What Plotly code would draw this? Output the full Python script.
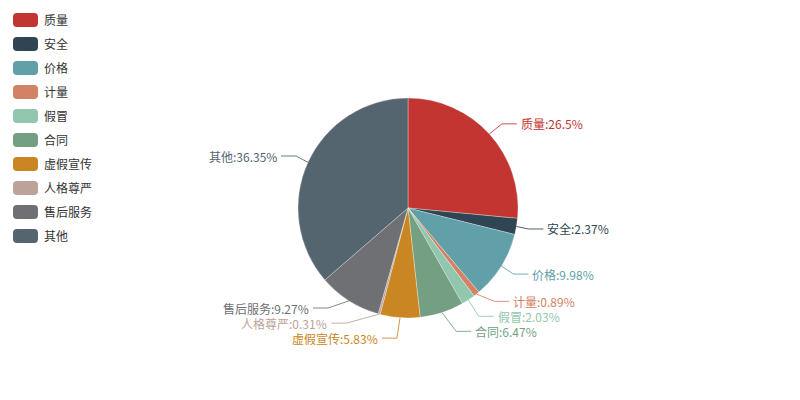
import math
import plotly.graph_objects as go

# ---- data ----
names = ["质量", "安全", "价格", "计量", "假冒", "合同", "虚假宣传", "人格尊严", "售后服务", "其他"]
values = [26.5, 2.37, 9.98, 0.89, 2.03, 6.47, 5.83, 0.31, 9.27, 36.35]
colors = ["#c23531", "#2f4554", "#61a0a8", "#d48265", "#91c7ae",
          "#749f83", "#ca8622", "#bda29a", "#6e7074", "#546570"]

# ---- layout constants (pixels) ----
W, H = 800, 400
CX, CY, R = 408, 208, 110
LEN1, LEN2 = 15, 15
LABEL_H = 15
FONT = "Noto Sans CJK SC"


def px(x):
    return x / W


def py(y):
    return 1 - y / H


# ---- compute label layout (ECharts-like) ----
total = sum(values)
labels = []
cum = 0.0
for i, (n, v) in enumerate(zip(names, values)):
    mid = (cum + v / 2) / total * 2 * math.pi
    cum += v
    s, c = math.sin(mid), -math.cos(mid)
    x0, y0 = CX + R * s, CY + R * c
    x1, y1 = CX + (R + LEN1) * s, CY + (R + LEN1) * c
    d = 1 if s >= 0 else -1
    x2 = x1 + d * LEN2
    tx = x2 + d * 5
    labels.append(dict(i=i, x=tx, y=y1, d=d, pts=[[x0, y0], [x1, y1], [x2, y1]]))


def change_x(lst, is_down, d):
    last = 1e18 if is_down else 0
    for L in lst:
        dy = abs(L["y"] - CY)
        if dy < R + LEN1:
            dx = math.sqrt((R + LEN1 + LEN2) ** 2 - dy ** 2)
        else:
            dx = abs(L["x"] - CX)
        if is_down and dx >= last:
            dx = last - 10
        if (not is_down) and dx <= last:
            dx = last + 10
        L["x"] = CX + dx * d
        last = dx


def adjust(lst, d):
    lst.sort(key=lambda L: L["y"])
    n = len(lst)

    def shift_up(end, delta):
        for j in range(end, -1, -1):
            lst[j]["y"] -= delta
            if j > 0 and lst[j]["y"] > lst[j - 1]["y"] + LABEL_H:
                break

    def shift_down(start, end, delta):
        for j in range(start, end):
            lst[j]["y"] += delta
            if j > start and j + 1 < end and lst[j + 1]["y"] > lst[j]["y"] + LABEL_H:
                shift_up(j, delta / 2)
                return
        shift_up(end - 1, delta / 2)

    last_y = 0
    for i in range(n):
        delta = lst[i]["y"] - last_y
        if delta < 0:
            shift_down(i, n, -delta)
        last_y = lst[i]["y"] + LABEL_H
    if H - last_y < 0:
        shift_up(n - 1, last_y - H)
    up = [L for L in lst if L["y"] < CY]
    down = [L for L in lst if L["y"] >= CY]
    change_x(up, False, d)
    change_x(down, True, d)


adjust([L for L in labels if L["d"] > 0], 1)
adjust([L for L in labels if L["d"] < 0], -1)

for L in labels:
    pts = L["pts"]
    dist = pts[1][0] - pts[2][0]
    pts[2][0] = L["x"] + 3 if L["x"] < CX else L["x"] - 3
    pts[1][1] = pts[2][1] = L["y"]
    pts[1][0] = pts[2][0] + dist

# ---- figure ----
fig = go.Figure()
fig.add_trace(go.Pie(
    labels=names, values=values, sort=False, direction="clockwise", rotation=0,
    marker=dict(colors=colors, line=dict(color="rgba(255,255,255,0.6)", width=0.5)),
    textinfo="none", hoverinfo="label+percent", showlegend=False,
    domain=dict(x=[px(CX - R), px(CX + R)], y=[py(CY + R), py(CY - R)]),
))

shapes = []
annotations = []
for L in labels:
    col = colors[L["i"]]
    p = L["pts"]
    path = "M {} {} L {} {} L {} {}".format(px(p[0][0]), py(p[0][1]), px(p[1][0]), py(p[1][1]),
                                            px(p[2][0]), py(p[2][1]))
    shapes.append(dict(type="path", path=path, xref="paper", yref="paper",
                       line=dict(color=col, width=1), opacity=0.85, layer="above"))
    annotations.append(dict(
        x=px(L["x"]), y=py(L["y"]), xref="paper", yref="paper",
        text="{}:{:g}%".format(names[L["i"]], values[L["i"]]),
        showarrow=False, xanchor="left" if L["d"] > 0 else "right", yanchor="middle",
        font=dict(family=FONT, size=12, color=col), borderpad=0,
    ))

# ---- manual legend ----
LX, LY, LW, LHT, LGAP, LR = 13, 13, 25, 14, 24, 4
for i, (n, col) in enumerate(zip(names, colors)):
    x0, y0 = LX, LY + i * LGAP
    x1, y1 = x0 + LW, y0 + LHT
    pts = [
        ("M", x0 + LR, y0), ("L", x1 - LR, y0), ("Q", x1, y0, x1, y0 + LR),
        ("L", x1, y1 - LR), ("Q", x1, y1, x1 - LR, y1), ("L", x0 + LR, y1),
        ("Q", x0, y1, x0, y1 - LR), ("L", x0, y0 + LR), ("Q", x0, y0, x0 + LR, y0),
    ]
    segs = []
    for seg in pts:
        cmd = seg[0]
        coords = seg[1:]
        parts = []
        for k in range(0, len(coords), 2):
            parts.append("{:.5f},{:.5f}".format(px(coords[k]), py(coords[k + 1])))
        segs.append(cmd + " " + " ".join(parts))
    shapes.append(dict(type="path", path=" ".join(segs) + " Z", xref="paper", yref="paper",
                       fillcolor=col, line=dict(width=0), layer="above"))
    annotations.append(dict(
        x=px(x1 + 5), y=py(y0 + LHT / 2 - 0.5), xref="paper", yref="paper", text=n,
        showarrow=False, xanchor="left", yanchor="middle", borderpad=0,
        font=dict(family=FONT, size=12, color="#333333"),
    ))

fig.update_layout(
    width=W, height=H, margin=dict(l=0, r=0, t=0, b=0),
    paper_bgcolor="white", plot_bgcolor="white",
    shapes=shapes, annotations=annotations, showlegend=False,
    font=dict(family=FONT, size=12),
)
fig.write_html("out.html")
